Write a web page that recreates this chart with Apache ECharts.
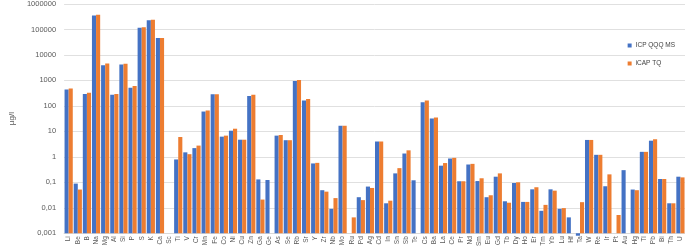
<!DOCTYPE html>
<html>
<head>
<meta charset="utf-8">
<script src="https://cdn.jsdelivr.net/npm/echarts@6/dist/echarts.min.js"></script>
<style>
  html, body { margin: 0; padding: 0; background: #fff; }
  #chart { width: 685px; height: 249px; }
</style>
</head>
<body>
<div id="chart"></div>
<script>
const elements = ['Li', 'Be', 'B', 'Na', 'Mg', 'Al', 'Si', 'P', 'S', 'K', 'Ca', 'Sc', 'Ti', 'V', 'Cr', 'Mn', 'Fe', 'Co', 'Ni', 'Cu', 'Zn', 'Ga', 'Ge', 'As', 'Se', 'Rb', 'Sr', 'Y', 'Zr', 'Nb', 'Mo', 'Ru', 'Pd', 'Ag', 'Cd', 'In', 'Sn', 'Sb', 'Te', 'Cs', 'Ba', 'La', 'Ce', 'Pr', 'Nd', 'Sm', 'Eu', 'Gd', 'Tb', 'Dy', 'Ho', 'Er', 'Tm', 'Yb', 'Lu', 'Hf', 'Ta', 'W', 'Re', 'Ir', 'Pt', 'Au', 'Hg', 'Tl', 'Pb', 'Bi', 'Th', 'U']

// ICP QQQ MS, µg/l ('-' = not reported)
const qqqValues = [440, 0.089, 295, 350000, 3970, 275, 4200, 515, 116000, 230000, 46000, '-', 0.79, 1.5, 2.2, 60, 285, 6.2, 10.6, 4.7, 245, 0.13, 0.123, 6.8, 4.5, 940, 162, 0.55, 0.049, 0.0091, 16.6, '-', 0.026, 0.068, 4.0, 0.015, 0.224, 1.35, 0.12, 138, 32, 0.45, 0.86, 0.11, 0.5, 0.112, 0.026, 0.166, 0.018, 0.094, 0.017, 0.053, 0.0076, 0.053, 0.0091, 0.0042, 0.0008, 4.6, 1.2, 0.07, '-', 0.3, 0.052, 1.57, 4.3, 0.135, 0.015, 0.166]

// iCAP TQ, µg/l
const tqValues = [480, 0.052, 330, 380000, 4600, 295, 4500, 600, 123000, 240000, 46000, '-', 6.0, 1.27, 2.76, 66, 285, 6.8, 12.7, 4.7, 275, 0.021, '-', 7.2, 4.5, 1030, 188, 0.58, 0.043, 0.024, 16.6, 0.0042, 0.02, 0.06, 4.0, 0.019, 0.36, 1.8, '-', 162, 35, 0.57, 0.91, 0.11, 0.53, 0.144, 0.031, 0.224, 0.0158, 0.1, 0.017, 0.064, 0.013, 0.047, 0.0097, '-', 0.0166, 4.6, 1.2, 0.205, 0.0052, '-', 0.049, 1.57, 4.9, 0.135, 0.015, 0.156]

const chart = echarts.init(document.getElementById('chart'))

const fmt = (v) => String(Number(v.toPrecision(1))).replace('.', ',')

chart.setOption({
  animation: false,
  textStyle: { fontFamily: 'Liberation Sans, Arial, sans-serif' },
  grid: { left: 45, right: 0, top: 3, bottom: 15 },
  legend: {
    orient: 'vertical',
    right: 5,
    top: 37,
    itemWidth: 4,
    itemHeight: 4,
    itemGap: 11,
    icon: 'rect',
    textStyle: { fontSize: 6.5, color: '#404040', padding: [0, 0, 0, -1] },
  },
  xAxis: {
    type: 'category',
    data: elements,
    axisLine: { lineStyle: { color: '#d9d9d9' } },
    axisTick: { show: false },
    axisLabel: { rotate: 90, fontSize: 6.5, color: '#595959', margin: 3, interval: 0 },
  },
  yAxis: {
    type: 'log',
    logBase: 10,
    min: 0.001,
    max: 1000000,
    startValue: 0.001,
    name: 'µg/l',
    nameLocation: 'middle',
    nameRotate: 90,
    nameGap: 32,
    nameTextStyle: { fontSize: 8, color: '#595959' },
    axisLine: { show: false },
    axisTick: { show: false },
    splitLine: { lineStyle: { color: '#e0e0e0' } },
    axisLabel: { fontSize: 7.5, color: '#595959', margin: 8, formatter: fmt },
  },
  series: [
    {
      name: 'ICP QQQ MS',
      type: 'bar',
      data: qqqValues,
      clip: false,
      barGap: '0%',
      barCategoryGap: '10%',
      itemStyle: { color: '#4472C4' },
    },
    {
      name: 'iCAP TQ',
      type: 'bar',
      data: tqValues,
      clip: false,
      itemStyle: { color: '#ED7D31' },
    },
  ],
})
</script>
</body>
</html>
